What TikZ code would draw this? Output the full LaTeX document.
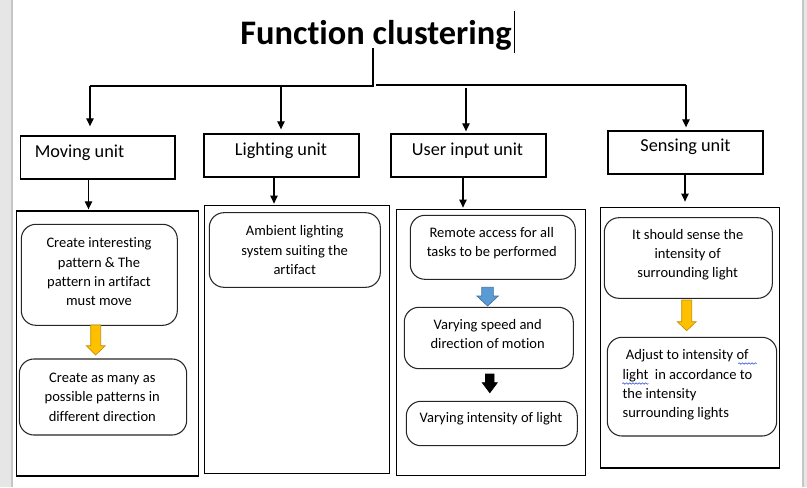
\documentclass[tikz,border=0pt]{standalone}
\usepackage{fontspec}
\setmainfont{Carlito}[Ligatures={NoCommon}]
\usetikzlibrary{arrows.meta,fit,decorations.pathmorphing}
\definecolor{stripgray}{HTML}{E6E6E6}
\definecolor{stripline}{HTML}{C6C6C6}
\definecolor{yellowfill}{HTML}{FFC000}
\definecolor{yellowedge}{HTML}{BF9000}
\definecolor{bluefill}{HTML}{5B9BD5}
\definecolor{blueedge}{HTML}{41719C}
\definecolor{spellblue}{HTML}{3355DD}
\tikzset{
  unitbox/.style={draw=black, line width=1pt, inner sep=0pt},
  outerbox/.style={draw=black, line width=1pt, inner sep=0pt},
  rbox/.style={draw=black!85, line width=0.8pt, rounded corners=11pt, inner sep=0pt},
  body/.style={font=\fontsize{10.9pt}{14.5pt}\selectfont, align=center, inner sep=0pt},
  bodyleft/.style={font=\fontsize{10.9pt}{14.5pt}\selectfont, align=left, inner sep=0pt},
  unitlabel/.style={font=\fontsize{13.7pt}{16pt}\selectfont, inner sep=0pt, anchor=base},
  titlefont/.style={font=\fontsize{25.8pt}{30pt}\selectfont\bfseries, inner sep=0pt, anchor=base},
  thinarr/.style={-{Triangle[width=5.5pt,length=6pt]}, line width=0.9pt},
  busline/.style={line width=0.9pt},
  yellowarr/.style={fill=yellowfill, draw=yellowedge, line width=0.5pt},
  bluearr/.style={fill=bluefill, draw=blueedge, line width=0.5pt},
  blackarr/.style={fill=black, draw=black, line width=0.5pt},
  spell/.style={draw=spellblue, line width=0.45pt, decorate, decoration={snake, amplitude=0.55pt, segment length=2.4pt}}
}
\newcommand{\blockarr}[7]{%
  \filldraw[#7] (#1-#5,#2) -- (#1+#5,#2) -- (#1+#5,#3) -- (#1+#6,#3) -- (#1,#4) -- (#1-#6,#3) -- (#1-#5,#3) -- cycle;}
\begin{document}
\begin{tikzpicture}[x=0.75pt,y=-0.75pt]
\useasboundingbox (0,0) rectangle (807,487);
% window strips
\fill[stripgray] (0,0) rectangle (12,487);
\draw[stripline, line width=0.8pt] (12,0) -- (12,487);
\fill[stripgray] (803,0) rectangle (807,487);
\draw[stripline, line width=0.8pt] (803,0) -- (803,487);

% title
\node[titlefont] (title) at (376,44) {Function clustering};
\draw[line width=0.6pt] (514.3,11) -- (514.3,52.7);

% unit boxes
\node[unitbox, fit={(20.6,136) (175,179)}] (mu) {};
\node[unitbox, fit={(204,134) (359,177)}] (lu) {};
\node[unitbox, fit={(391,134) (546,177)}] (uu) {};
\node[unitbox, fit={(608,131) (763,174)}] (su) {};
\node[unitlabel, anchor=base west] (mul) at (34.5,157.8) {Moving unit};
\node[unitlabel] (lul) at (281,155) {Lighting unit};
\node[unitlabel] (uul) at (467.5,155) {User input unit};
\node[unitlabel] (sul) at (685.5,151.8) {Sensing unit};

% bus
\coordinate (t) at (373,48);
\coordinate (j) at (373,86);
\coordinate (j2) at (376,85);
\coordinate (bl) at (90,86);
\coordinate (b2) at (281,86);
\coordinate (b3) at (466,85);
\coordinate (br) at (686,85);
\draw[busline] (t) -- (j) -- (bl);
\draw[busline] (j2) -- (br);
\draw[thinarr, shorten >=6.75pt] (bl) -- (bl |- mu.north);
\draw[thinarr, shorten >=3pt] (b2) -- (b2 |- lu.north);
\draw[thinarr, shorten >=1.5pt] ([yshift=-2.25pt]b3) -- (b3 |- uu.north);
\draw[thinarr, shorten >=2.25pt] (br) -- (br |- su.north);

% outer boxes
\node[outerbox, fit={(16.3,211) (198.7,476)}] (o1) {};
\node[outerbox, fit={(204.3,205.3) (389.3,473.3)}] (o2) {};
\node[outerbox, fit={(396.3,209.3) (585.3,475.3)}] (o3) {};
\node[outerbox, fit={(600.3,207.3) (779.3,468)}] (o4) {};

\coordinate (d1) at (88.5,179);
\coordinate (d2) at (274,177);
\coordinate (d3) at (463,177);
\coordinate (d4) at (685,174);
\draw[thinarr, shorten >=0.75pt] (d1) -- (d1 |- o1.north);
\draw[thinarr, shorten >=0.75pt] (d2) -- (d2 |- o2.north);
\draw[thinarr, shorten >=0.75pt] (d3) -- (d3 |- o3.north);
\draw[thinarr, shorten >=3.75pt] (d4) -- (d4 |- o4.north);

% rounded boxes
\node[rbox, fit={(21.3,224.3) (177.3,325.3)}] (r1a) {};
\node[rbox, fit={(19.3,359) (186.7,435)}] (r1b) {};
\node[rbox, fit={(209.3,212.7) (380.3,287.3)}] (r2a) {};
\node[rbox, fit={(410.3,215.3) (575.3,279.3)}] (r3a) {};
\node[rbox, fit={(404.3,307.3) (573.3,368.7)}] (r3b) {};
\node[rbox, fit={(406.3,401.3) (577.3,445.7)}] (r3c) {};
\node[rbox, fit={(604.3,217.7) (772.3,298.3)}] (r4a) {};
\node[rbox, fit={(607.3,337.3) (776.7,436)}] (r4b) {};

% texts
\node[body] (t1a) at (99,272) {Create interesting\\pattern \& The\\pattern in artifact\\must move};
\node[body] (t1b) at (102.3,397) {Create as many as\\possible patterns in\\different direction};
\node[body] (t2a) at (294.7,250) {Ambient lighting\\system suiting the\\artifact};
\node[body] (t3a) at (491.7,242.8) {Remote access for all\\tasks to be performed};
\node[body] (t3b) at (487.7,333.8) {Varying speed and\\direction of motion};
\node[body] (t3c) at (491,418.3) {Varying intensity of light};
\node[body] (t4a) at (687.7,254.7) {It should sense the\\intensity of\\surrounding light};
\node[bodyleft, anchor=west] (t4b) at (622.3,385) {\ Adjust to intensity of\\light\ \ in accordance to\\the intensity\\surrounding lights};
\draw[spell] (738.3,363.5) -- (756.7,363.5);
\draw[spell] (622.3,383.5) -- (648.3,383.5);

% block arrows
\blockarr{95.7}{325}{345.7}{355}{5}{9.5}{yellowarr}
\blockarr{487.6}{287.3}{296}{306}{5.8}{10.7}{bluearr}
\blockarr{489.8}{374}{382.7}{392.7}{4.3}{7.5}{blackarr}
\blockarr{686.7}{300}{321.7}{330.7}{5}{9.4}{yellowarr}
\end{tikzpicture}
\end{document}
